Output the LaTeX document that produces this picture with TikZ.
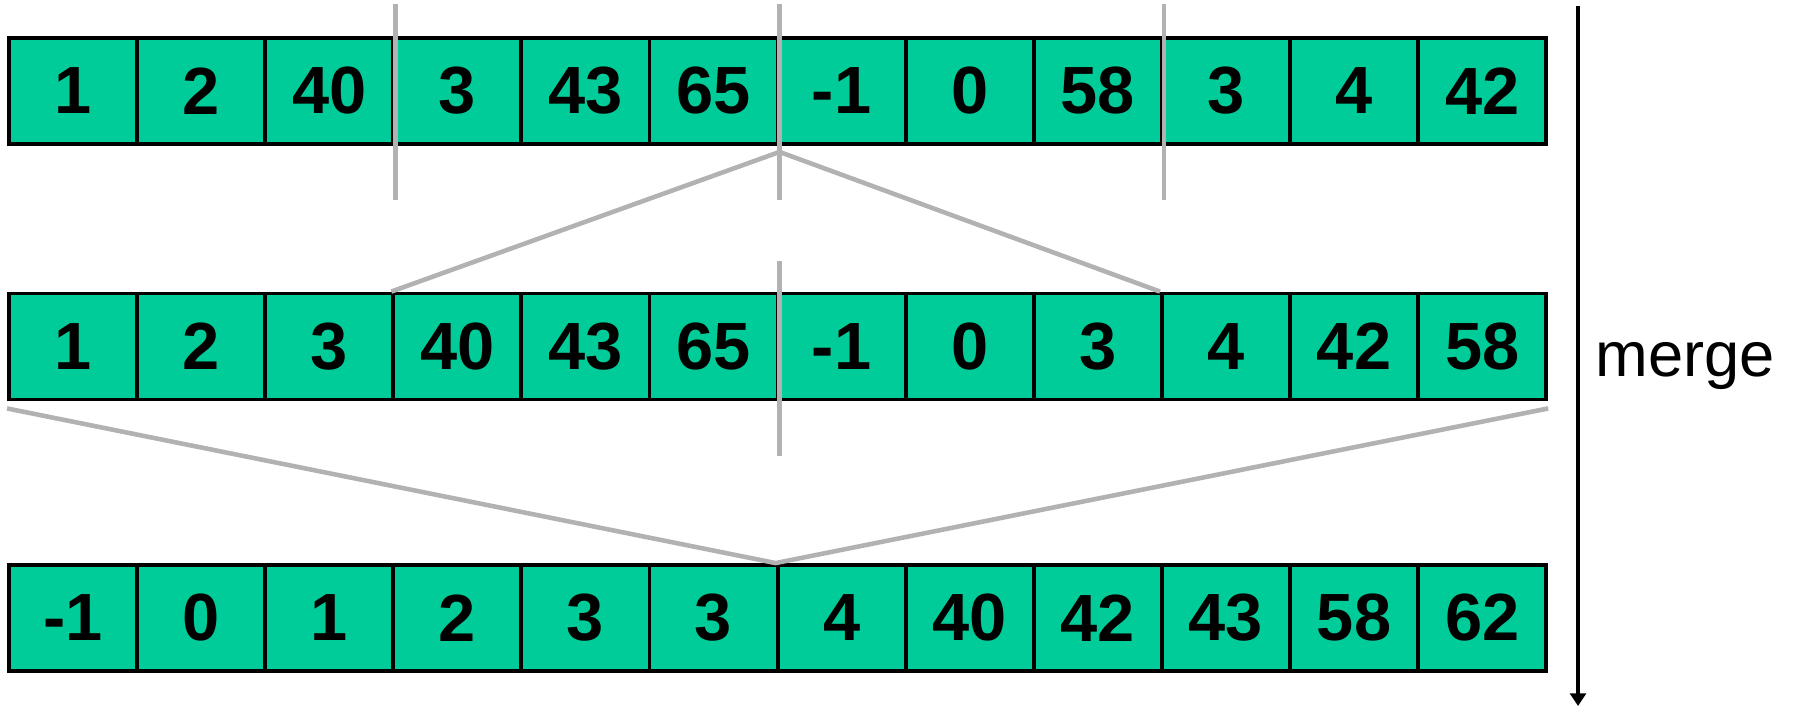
\documentclass[tikz,border=0pt]{standalone}
\usepackage{fontspec}
\setsansfont{Liberation Sans}
\usepackage{tikz}
\usepackage{xcolor}
\usetikzlibrary{arrows.meta,calc,positioning}

\definecolor{cellgreen}{RGB}{0,204,153}
\definecolor{guidegray}{RGB}{178,178,178}

\tikzset{
  cell/.style={draw=black, line width=1.1pt, fill=cellgreen, inner sep=0pt,
    minimum width=1.281cm, minimum height=1.06cm,
    font=\sffamily\bfseries\fontsize{19}{19}\selectfont},
  guide/.style={guidegray, line width=1.3pt},
}

\begin{document}
\begin{tikzpicture}
  \useasboundingbox (0,0) rectangle (17.93,-7.07);

  % the three rows of cells
  \foreach \v [count=\i] in {1,2,40,3,43,65,-1,0,58,3,4,42}{
    \node[cell] (a\i) at ({0.09+1.281*(\i-0.5)},-0.91) {\v};
  }
  \foreach \v [count=\i] in {1,2,3,40,43,65,-1,0,3,4,42,58}{
    \node[cell] (b\i) at ({0.09+1.281*(\i-0.5)},-3.465) {\v};
  }
  \foreach \v [count=\i] in {-1,0,1,2,3,3,4,40,42,43,58,62}{
    \node[cell] (c\i) at ({0.09+1.281*(\i-0.5)},-6.18) {\v};
  }

  % split marks in the first row
  \foreach \k in {3,6,9}{
    \draw[guide] ($(a\k.north east)+(0,0.32)$) -- ($(a\k.south east)+(0,-0.54)$);
  }
  % split mark in the second row
  \draw[guide] ($(b6.north east)+(0,0.31)$) -- ($(b6.south east)+(0,-0.55)$);

  % merge funnels
  \coordinate (tip1) at ($(a6.south east)+(0,-0.06)$);
  \draw[guide] (b4.north west) -- (tip1) -- (b10.north west);
  \coordinate (left2) at ($(b1.south west)+(0,-0.07)$);
  \coordinate (right2) at ($(b12.south east)+(0,-0.07)$);
  \draw[guide] (left2) -- (c7.north west) -- (right2);

  % direction arrow
  \coordinate (arrtop) at (15.78,-0.06);
  \coordinate (arrbot) at (15.78,-7.06);
  \draw[line width=0.9pt, -{Triangle[width=4.5pt,length=3.6pt]}] (arrtop) -- (arrbot);
  \node[anchor=west, inner sep=0pt, font=\sffamily\fontsize{18}{18}\selectfont]
    (mergelbl) at (15.95,-3.66) {merge};
\end{tikzpicture}
\end{document}
